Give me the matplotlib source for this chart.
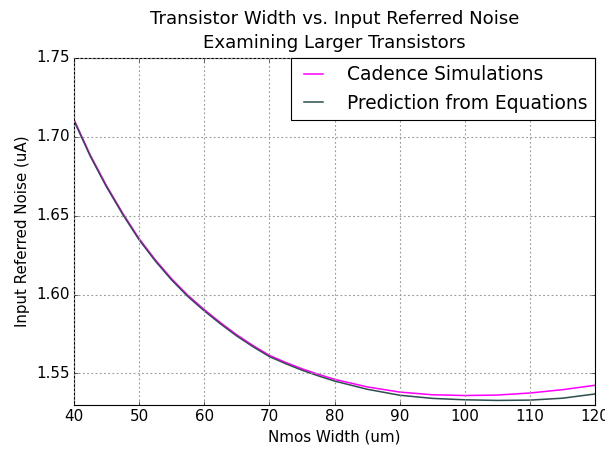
import matplotlib
matplotlib.use('Agg')
import matplotlib.pyplot as plt

plt.style.use('classic')
plt.rcParams['font.size'] = 13.6

# nmos width (um) and noise (uA)
width_um = [40, 42.5, 45, 47.5, 50, 52.5, 55, 57.5, 60, 62.5, 65, 67.5, 70, 72.5, 75, 77.5,
            80, 85, 90, 95, 100, 105, 110, 115, 120]
cadence = [1.7110, 1.6885, 1.6690, 1.6515, 1.6355, 1.6220, 1.6100, 1.5995, 1.5905, 1.5822,
           1.5745, 1.5677, 1.5615, 1.5570, 1.5530, 1.5495, 1.5463, 1.5415, 1.5382, 1.5365,
           1.5360, 1.5363, 1.5376, 1.5397, 1.5425]
prediction = [1.7102, 1.6877, 1.6682, 1.6507, 1.6347, 1.6212, 1.6092, 1.5987, 1.5897, 1.5814,
              1.5737, 1.5669, 1.5607, 1.5562, 1.5521, 1.5485, 1.5452, 1.5400, 1.5362, 1.5342,
              1.5333, 1.5329, 1.5331, 1.5343, 1.5370]
y_ticks = [1.55, 1.60, 1.65, 1.70, 1.75]

fig = plt.figure(figsize=(605 / 80, 453 / 80), dpi=80, facecolor='white')
ax = fig.add_axes([74 / 605, 1 - 405 / 453, 521 / 605, 347 / 453])

ax.plot(width_um, cadence, color='magenta', lw=1.4, label='Cadence Simulations')
ax.plot(width_um, prediction, color='darkslategray', lw=1.4, label='Prediction from Equations')

ax.set_xlim(40, 120)
ax.set_ylim(1.53, 1.75)
ax.set_yticks(y_ticks)
ax.set_yticklabels(['%.2f' % t for t in y_ticks])
ax.grid(True, color='0.6', linestyle=(0, (1.6, 2.2)), linewidth=1.0)

ax.set_title('Transistor Width vs. Input Referred Noise\nExamining Larger Transistors',
             linespacing=1.45, pad=9)
ax.set_xlabel('Nmos Width (um)')
ax.set_ylabel('Input Referred Noise (uA)')
ax.legend(loc='upper right', borderaxespad=0, handlelength=1.6, handletextpad=1.0,
          fontsize=16.8)

fig.savefig('out.png', dpi=80, facecolor='white')
